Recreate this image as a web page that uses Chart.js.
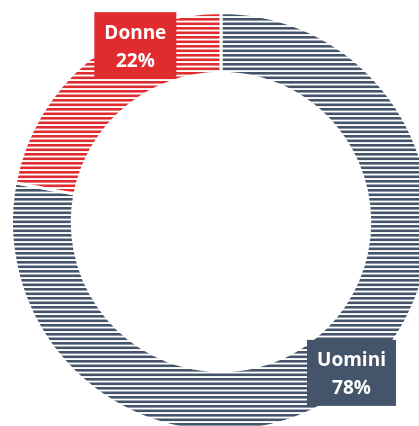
<!DOCTYPE html>
<html>
<head>
<meta charset="utf-8">
<script src="https://cdn.jsdelivr.net/npm/chart.js@4.4.1/dist/chart.umd.min.js"></script>
<style>
  html, body { margin: 0; padding: 0; background: #fff; overflow: hidden; }
  #wrap { position: relative; width: 419px; height: 426px; overflow: hidden; }
  #c { position: absolute; left: 0; top: 0; }
</style>
</head>
<body>
<div id="wrap"><canvas id="c" width="442" height="444"></canvas></div>
<script>
// chart data
const categories = ['Uomini', 'Donne'];
const shares = [78, 22];
const colors = ['#44546a', '#e02b2f'];

// horizontal stripes, like the excel fill pattern
const stripes = (color) => {
    const tile = document.createElement('canvas');
    tile.width = 8;
    tile.height = 9;
    const t = tile.getContext('2d');
    t.fillStyle = '#ffffff';
    t.fillRect(0, 0, 8, 9);
    t.fillStyle = color;
    t.fillRect(0, 0, 8, 2.6);
    t.fillRect(0, 4.5, 8, 2.6);
    return document.getElementById('c').getContext('2d').createPattern(tile, 'repeat');
};

// boxed labels sitting on the ring
const labelBoxes = {
    id: 'labelBoxes',
    afterDatasetsDraw(chart) {
        const ctx = chart.ctx;
        const meta = chart.getDatasetMeta(0);
        const nudge = [-0.022, 0.24]; // Donne was pushed a bit toward the top
        const inset = [10, 13];
        const sizes = [[89, 66], [82, 66]];
        meta.data.forEach((arc, i) => {
            const p = arc.getProps(['x', 'y', 'startAngle', 'endAngle', 'outerRadius']);
            const a = (p.startAngle + p.endAngle) / 2 + nudge[i];
            const r = p.outerRadius - inset[i];
            const cx = p.x + Math.cos(a) * r;
            const cy = p.y + Math.sin(a) * r;
            const [w, h] = sizes[i];
            ctx.save();
            ctx.fillStyle = colors[i];
            ctx.fillRect(cx - w / 2, cy - h / 2, w, h);
            ctx.fillStyle = '#ffffff';
            ctx.font = 'bold 19px "Open Sans", sans-serif';
            ctx.textAlign = 'center';
            ctx.textBaseline = 'middle';
            ctx.fillText(categories[i], cx, cy - 12);
            ctx.fillText(shares[i] + '%', cx, cy + 16);
            ctx.restore();
        });
    }
};

new Chart(document.getElementById('c'), {
    type: 'doughnut',
    data: {
        labels: categories,
        datasets: [{
            data: shares,
            backgroundColor: colors.map(stripes),
            borderColor: '#ffffff',
            borderWidth: 3,
            hoverOffset: 0
        }]
    },
    options: {
        responsive: false,
        animation: false,
        cutout: '71%',
        layout: { padding: 10 },
        plugins: {
            legend: { display: false },
            tooltip: { enabled: false }
        }
    },
    plugins: [labelBoxes]
});
</script>
</body>
</html>
